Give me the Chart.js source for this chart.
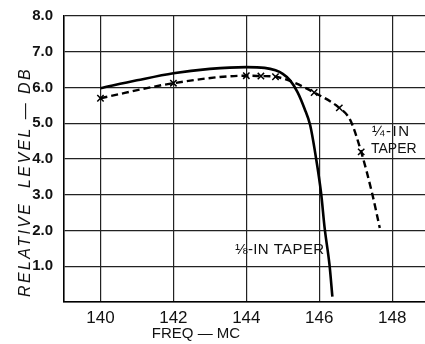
<!DOCTYPE html>
<html>
<head>
<meta charset="utf-8">
<script src="https://cdn.jsdelivr.net/npm/chart.js@4"></script>
<style>
  body { margin: 0; background: #fff; }
  #wrap { width: 425px; height: 344px; position: relative; }
</style>
</head>
<body>
<div id="wrap"><canvas id="chart"></canvas></div>
<script>
// 1/8 in taper (solid)
const eighthFreq  = [140, 141, 142, 143, 144, 144.5, 144.8, 145, 145.2, 145.4, 145.6, 145.75, 145.9, 146.05, 146.15, 146.28, 146.36];
const eighthLevel = [5.98, 6.2, 6.4, 6.52, 6.57, 6.55, 6.48, 6.38, 6.2, 5.88, 5.4, 4.95, 4.1, 3.05, 2.05, 1.05, 0.15];

// 1/4 in taper (dashed)
const quarterFreq  = [140, 142, 144, 144.4, 144.8, 145.3, 145.86, 146.55, 146.85, 147.15, 147.45, 147.66];
const quarterLevel = [5.7, 6.12, 6.33, 6.32, 6.3, 6.14, 5.86, 5.43, 5.09, 4.2, 3.04, 2.07];

// measured points marked with x on the dashed curve
const markFreq  = [140, 142, 144, 144.4, 144.8, 145.86, 146.55, 147.15];
const markLevel = [5.7, 6.12, 6.33, 6.32, 6.3, 5.86, 5.43, 4.2];

const xTicks = [140, 142, 144, 146, 148];
const yTicks = [0, 1, 2, 3, 4, 5, 6, 7, 8];

const toPoints = (xs, ys) => xs.map((x, i) => ({ x: x, y: ys[i] }));

const FONT = "'Liberation Sans', 'DejaVu Sans', sans-serif";

// axis titles and curve labels drawn on top
const textPlugin = {
    id: "labels",
    afterDraw(chart) {
        const c = chart.ctx;
        c.save();
        c.fillStyle = "#111";
        c.textAlign = "center";
        c.textBaseline = "middle";

        // y title
        c.save();
        c.translate(26, 182);
        c.rotate(-Math.PI / 2);
        c.font = "italic 16px " + FONT;
        c.letterSpacing = "2.4px";
        c.fillText("RELATIVE  LEVEL — DB", 0, 0);
        c.restore();

        // x title
        c.font = "15px " + FONT;
        c.letterSpacing = "0px";
        c.fillText("FREQ — MC", 196, 334);

        // curve labels
        c.textAlign = "left";
        c.font = "15px " + FONT;
        c.letterSpacing = "1.5px";
        c.fillText("¼-IN", 372, 132);
        c.letterSpacing = "0px";
        c.font = "14px " + FONT;
        c.fillText("TAPER", 371, 149);
        c.font = "15px " + FONT;
        c.letterSpacing = "0.4px";
        c.fillText("⅛-IN TAPER", 235, 250);
        c.restore();
    }
};

new Chart(document.getElementById("chart"), {
    type: "line",
    data: {
        datasets: [
            {
                label: "1/8 in taper",
                data: toPoints(eighthFreq, eighthLevel),
                borderColor: "#000",
                borderWidth: 2.6,
                pointRadius: 0,
                cubicInterpolationMode: "monotone",
            },
            {
                label: "1/4 in taper",
                data: toPoints(quarterFreq, quarterLevel),
                borderColor: "#000",
                borderWidth: 2.4,
                borderDash: [7, 4],
                pointRadius: 0,
                cubicInterpolationMode: "monotone",
            },
            {
                label: "points",
                data: toPoints(markFreq, markLevel),
                showLine: false,
                pointStyle: "crossRot",
                pointRadius: 4.5,
                borderColor: "#000",
                borderWidth: 1.5,
            },
        ],
    },
    options: {
        responsive: true,
        maintainAspectRatio: false,
        animation: false,
        layout: { autoPadding: false, padding: { top: 16, right: 0, left: 0, bottom: 0 } },
        plugins: { legend: { display: false }, tooltip: { enabled: false } },
        scales: {
            x: {
                type: "linear",
                min: 139,
                max: 148.9,
                afterBuildTicks: s => { s.ticks = xTicks.map(v => ({ value: v })); },
                afterFit: s => { s.height = 42; s.paddingLeft = 0; s.paddingRight = 0; },
                grid: { color: "#222", lineWidth: 1.2, drawTicks: false },
                border: { color: "#000", width: 1.6 },
                ticks: {
                    padding: 6,
                    maxRotation: 0,
                    color: "#111",
                    font: { family: FONT, size: 17 },
                    callback: v => String(v),
                },
            },
            y: {
                min: 0,
                max: 8,
                afterBuildTicks: s => { s.ticks = yTicks.map(v => ({ value: v })); },
                afterFit: s => { s.width = 64; s.paddingTop = 0; s.paddingBottom = 0; },
                grid: { color: "#222", lineWidth: 1.2, drawTicks: false },
                border: { color: "#000", width: 1.6 },
                ticks: {
                    padding: 11,
                    color: "#111",
                    font: { family: FONT, size: 15, weight: "bold" },
                    callback: v => (v === 0 ? "" : v.toFixed(1)),
                },
            },
        },
    },
    plugins: [textPlugin],
});
</script>
</body>
</html>
